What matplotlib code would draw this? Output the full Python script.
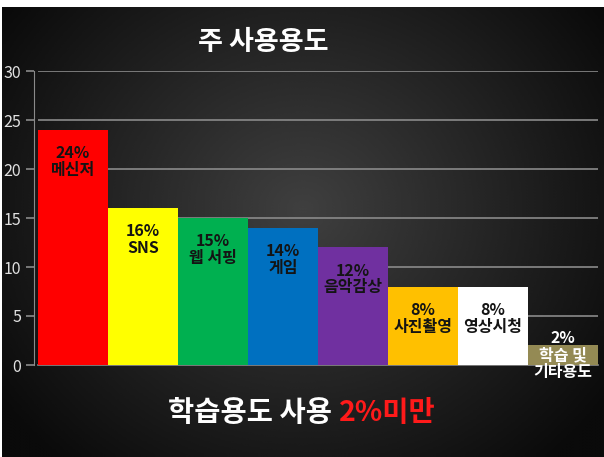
import numpy as np
import matplotlib.pyplot as plt

plt.rcParams['font.family'] = ['Noto Sans CJK KR', 'DejaVu Sans']

# 데이터
usage_values = [24, 16, 15, 14, 12, 8, 8, 2]
usage_labels = ['24%\n메신저', '16%\nSNS', '15%\n웹 서핑', '14%\n게임',
                '12%\n음악감상', '8%\n사진촬영', '8%\n영상시청', '2%\n학습 및\n기타용도']
bar_colors = ['#ff0000', '#ffff00', '#00b050', '#0070c0',
              '#7030a0', '#ffc000', '#ffffff', '#948a54']
y_ticks = [0, 5, 10, 15, 20, 25, 30]

W, H = 604, 457
fig = plt.figure(figsize=(W / 100, H / 100), dpi=100)
fig.patch.set_facecolor('white')

# 배경 그라데이션 (가운데가 밝은 회색)
bg = fig.add_axes([2 / W, 0, (W - 2) / W, (H - 7) / H])
yy, xx = np.mgrid[0:1:300j, 0:1:400j]
d = np.sqrt(((xx - 0.5) / 0.62) ** 2 + ((yy - 0.45) / 0.75) ** 2)
shade = np.clip(0.25 - 0.21 * d, 0.04, 1)
bg.imshow(shade, cmap='gray', vmin=0, vmax=1, aspect='auto',
          extent=[0, 1, 0, 1], origin='upper', interpolation='bicubic')
bg.axis('off')

# 메인 차트
ax = fig.add_axes([38 / W, (H - 365) / H, 560 / W, 294 / H])
ax.patch.set_alpha(0)
x = np.arange(len(usage_values))
ax.bar(x, usage_values, width=1.0, color=bar_colors, zorder=3)

ax.set_xlim(-0.5, len(usage_values) - 0.5)
ax.set_ylim(0, 30)
ax.set_yticks(y_ticks)
ax.set_xticks([])
ax.grid(axis='y', color='#8a8a8a', linewidth=1.2, zorder=1)
ax.tick_params(axis='y', colors='#8a8a8a', length=6, width=1.2,
               labelcolor='#e0e0e0', labelsize=11.5, pad=3)
for side in ['top', 'right']:
    ax.spines[side].set_visible(False)
ax.spines['left'].set_color('#8a8a8a')
ax.spines['left'].set_position(('outward', 3))
ax.spines['bottom'].set_color('#8a8a8a')
ax.spines['bottom'].set_linewidth(1.2)

for xi, v, lab in zip(x, usage_values, usage_labels):
    if v >= 5:
        ax.annotate(lab, (xi, v), xytext=(0, -11), textcoords='offset points',
                    ha='center', va='top', fontsize=11.5, fontweight='bold',
                    color='#141414', linespacing=1.05, zorder=4)
    else:
        ax.text(xi, v / 2, lab, ha='center', va='center', fontsize=11.5,
                fontweight='bold', color='white', linespacing=1.1,
                zorder=4, clip_on=False)

# 제목
fig.text(263 / W, 1 - 42 / H, '주 사용용도', ha='center', va='center',
         fontsize=19.5, fontweight='bold', color='white')

# 하단 문구
t1 = fig.text(168 / W, 1 - 413 / H, '학습용도 사용 ', ha='left', va='center',
              fontsize=20.5, fontweight='bold', color='white')
fig.canvas.draw()
bb = t1.get_window_extent()
fig.text(bb.x1 / W, 1 - 413 / H, '2%미만', ha='left', va='center',
         fontsize=20.5, fontweight='bold', color='#ff1a1a')

fig.savefig('out.png', dpi=100, facecolor=fig.get_facecolor())
